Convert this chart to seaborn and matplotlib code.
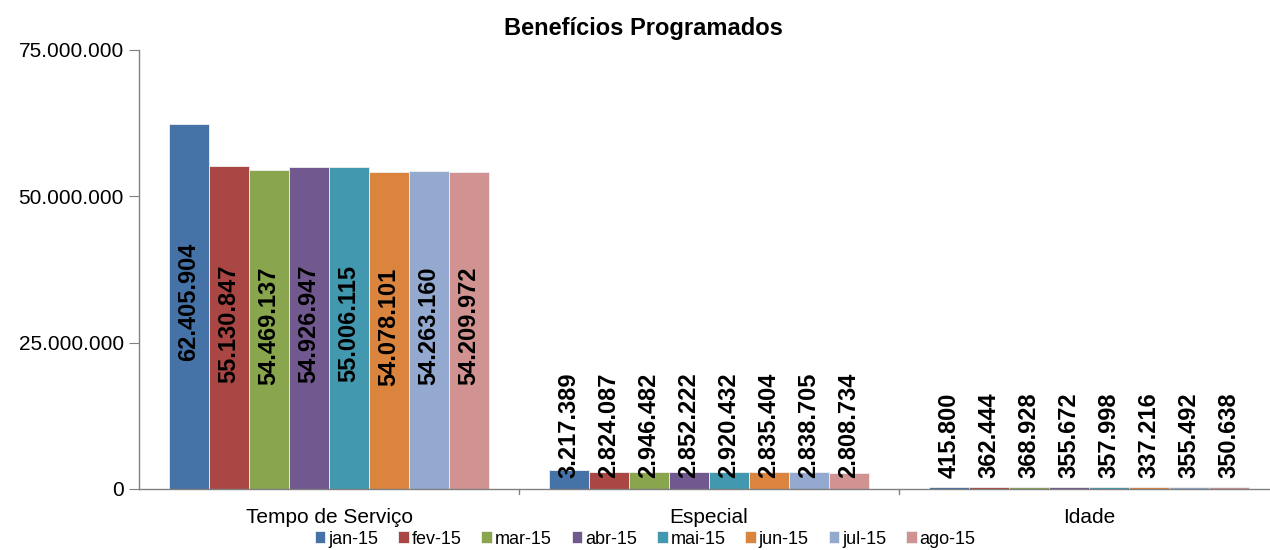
import pandas as pd
import matplotlib
matplotlib.use('Agg')
import matplotlib.pyplot as plt
import seaborn as sns

sns.set_style('white')
plt.rcParams['font.family'] = ['Liberation Sans', 'DejaVu Sans']
plt.rcParams['text.color'] = 'black'
plt.rcParams['xtick.color'] = 'black'
plt.rcParams['ytick.color'] = 'black'

# --- data ---
categories = ['Tempo de Serviço', 'Especial', 'Idade']
months = ['jan-15', 'fev-15', 'mar-15', 'abr-15', 'mai-15', 'jun-15', 'jul-15', 'ago-15']
tempo = [62405904, 55130847, 54469137, 54926947, 55006115, 54078101, 54263160, 54209972]
especial = [3217389, 2824087, 2946482, 2852222, 2920432, 2835404, 2838705, 2808734]
idade = [415800, 362444, 368928, 355672, 357998, 337216, 355492, 350638]
colors = ['#4572A7', '#AA4643', '#89A54E', '#71588F', '#4198AF', '#DB843D', '#93A9CF', '#D19392']

rows = []
for cat, vals in zip(categories, [tempo, especial, idade]):
    for m, v in zip(months, vals):
        rows.append({'Categoria': cat, 'Mes': m, 'Valor': v})
df = pd.DataFrame(rows)


def fmt(v):
    return f'{int(round(v)):,}'.replace(',', '.')


fig = plt.figure(figsize=(12.7, 5.5), dpi=100)
ax = fig.add_axes([139 / 1270, 61 / 550, 1140 / 1270, 439 / 550])

sns.barplot(data=df, x='Categoria', y='Valor', hue='Mes', order=categories,
            hue_order=months, palette=colors, width=0.842, linewidth=0.6,
            edgecolor='#f0f0f0', saturation=1, ax=ax, legend=True)

ax.set_xlim(-0.5, 2.5)
ax.set_ylim(0, 75000000)
yticks = [0, 25000000, 50000000, 75000000]
ax.set_yticks(yticks)
ax.set_yticklabels([fmt(t) for t in yticks], fontsize=15)
ax.set_xticks([0, 1, 2])
ax.set_xticklabels(categories, fontsize=15)
ax.tick_params(axis='x', length=0, pad=14)
ax.tick_params(axis='y', length=7, color='#808080', direction='out', left=True, pad=4)
# category separators on the x axis
for xb in [0.5, 1.5]:
    ax.plot([xb, xb], [0, -0.012], transform=ax.get_xaxis_transform(),
            color='#808080', lw=1, clip_on=False)
ax.set_xlabel('')
ax.set_ylabel('')
for s in ['top', 'right']:
    ax.spines[s].set_visible(False)
for s in ['left', 'bottom']:
    ax.spines[s].set_color('#808080')
    ax.spines[s].set_linewidth(1)

# value labels
for cont in ax.containers:
    for p in cont.patches:
        v = p.get_height()
        xc = p.get_x() + p.get_width() / 2
        if v > 10000000:
            ax.annotate(fmt(v), (xc, v / 2), xytext=(0, 3), textcoords='offset points',
                        rotation=90, ha='center', va='center',
                        fontsize=17, fontweight='bold')
        else:
            ax.annotate(fmt(v), (xc, 0), xytext=(0, 8), textcoords='offset points',
                        rotation=90, ha='center', va='bottom',
                        fontsize=17, fontweight='bold')

leg = ax.legend(loc='center', bbox_to_anchor=(0.508, 11 / 550),
                bbox_transform=fig.transFigure, ncol=8, frameon=False,
                fontsize=13, handlelength=0.6, handleheight=0.6,
                handletextpad=0.15, columnspacing=1.1)

fig.suptitle('Benefícios Programados', x=0.507, y=1 - 28 / 550, va='center',
             fontsize=17, fontweight='bold')

fig.savefig('out.png', dpi=100)
